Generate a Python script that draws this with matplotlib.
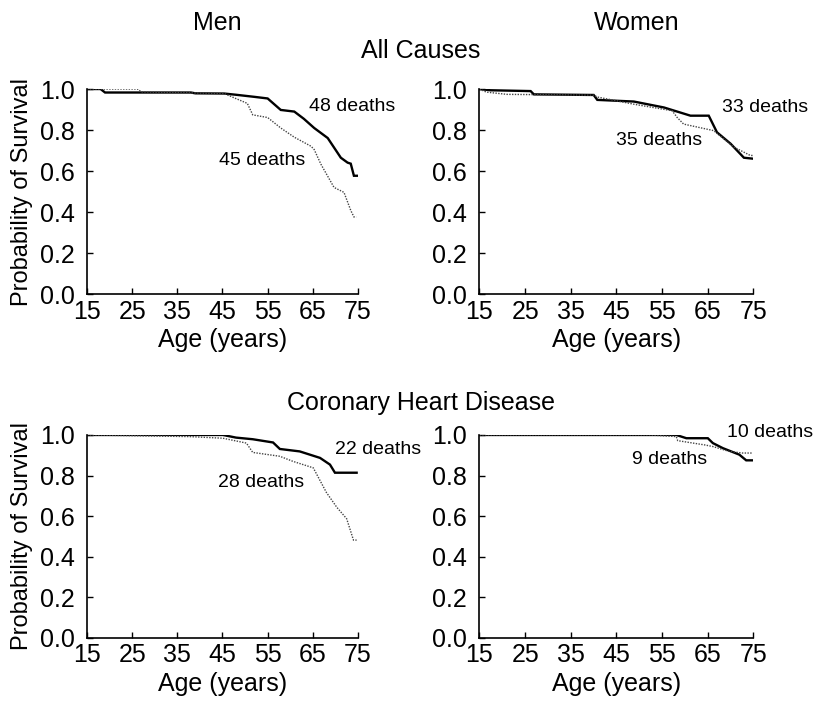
import numpy as np
import matplotlib
matplotlib.use("Agg")
import matplotlib.pyplot as plt

plt.rcParams['font.family'] = ['Liberation Sans', 'DejaVu Sans']

# ---- data (age in years, survival probability)
# Men, all causes
men_all_solid_age = [15, 18, 19, 38, 39, 45.4, 48, 52.0, 55.0, 57.9, 60.9, 63, 65.3, 68.3, 71.2, 72.7, 73.4, 74.1, 74.9]
men_all_solid_surv = [1.0, 1.0, 0.983, 0.983, 0.979, 0.978, 0.972, 0.962, 0.954, 0.898, 0.890, 0.855, 0.810, 0.761, 0.665, 0.641, 0.636, 0.577, 0.577]
men_all_dot_age = [15, 26.2, 27, 45.4, 47.6, 50.5, 51.7, 55.0, 57.9, 60.9, 64.6, 65.3, 66.8, 69.7, 71.9, 73.4, 74.1, 74.6]
men_all_dot_surv = [1.0, 1.0, 0.986, 0.978, 0.957, 0.930, 0.874, 0.861, 0.810, 0.765, 0.721, 0.705, 0.633, 0.520, 0.496, 0.408, 0.376, 0.376]

# Women, all causes
wom_all_solid_age = [15, 17.4, 26.2, 26.9, 40.0, 40.8, 48.8, 55.4, 61.2, 65.2, 67.0, 70.0, 72.9, 75.0]
wom_all_solid_surv = [1.0, 0.994, 0.990, 0.974, 0.971, 0.947, 0.939, 0.910, 0.870, 0.870, 0.789, 0.733, 0.665, 0.660]
wom_all_dot_age = [15, 16.5, 21, 40.0, 40.8, 48.8, 57.2, 58.3, 59.7, 66.3, 70.7, 74.3, 75.0]
wom_all_dot_surv = [1.0, 0.985, 0.974, 0.970, 0.961, 0.926, 0.894, 0.861, 0.829, 0.797, 0.717, 0.676, 0.676]

# Men, coronary heart disease
men_chd_solid_age = [15, 45.1, 48.0, 51.7, 56.2, 57.7, 62.1, 66.6, 68.8, 69.9, 74.7]
men_chd_solid_surv = [1.0, 1.0, 0.987, 0.979, 0.963, 0.931, 0.919, 0.887, 0.854, 0.814, 0.814]
men_chd_dot_age = [15, 37.7, 45.1, 50.3, 51.7, 57.7, 60.6, 65.1, 68.0, 70.3, 72.5, 74.0, 74.7]
men_chd_dot_surv = [1.0, 0.992, 0.984, 0.960, 0.914, 0.895, 0.870, 0.838, 0.717, 0.644, 0.587, 0.482, 0.482]

# Women, coronary heart disease
wom_chd_solid_age = [15, 58.1, 60.3, 65.0, 66.1, 68.3, 71.9, 73.4, 74.8]
wom_chd_solid_surv = [1.0, 1.0, 0.984, 0.984, 0.960, 0.935, 0.903, 0.875, 0.875]
wom_chd_dot_age = [15, 52.2, 58.1, 58.4, 64.3, 66.1, 69.7, 72.6, 74.8]
wom_chd_dot_surv = [1.0, 1.0, 0.992, 0.972, 0.951, 0.943, 0.919, 0.911, 0.911]

# death-count labels: (text, age, survival) per panel
labels_men_all = [("48 deaths", 64.1, 0.913), ("45 deaths", 44.2, 0.650)]
labels_wom_all = [("33 deaths", 68.2, 0.908), ("35 deaths", 44.8, 0.749)]
labels_men_chd = [("22 deaths", 69.9, 0.927), ("28 deaths", 43.9, 0.767)]
labels_wom_chd = [("10 deaths", 69.1, 1.010), ("9 deaths", 48.5, 0.879)]

x_ticks = [15, 25, 35, 45, 55, 65, 75]
y_ticks = [0.0, 0.2, 0.4, 0.6, 0.8, 1.0]

fig = plt.figure(figsize=(8.16, 7.01), dpi=100)

left_col = (0.1066, 0.3321)
right_col = (0.5876, 0.3358)
top_row = (0.5805, 0.2925)
bot_row = (0.0900, 0.2895)


def draw_panel(rect, solid, dotted, labels, ylabel):
    ax = fig.add_axes(rect)
    ax.plot(solid[0], solid[1], color='black', lw=1.7, solid_joinstyle='miter')
    ax.plot(dotted[0], dotted[1], color='#444444', lw=1.0, ls=(0, (1, 1)))
    for txt, xa, ya in labels:
        ax.text(xa, ya, txt, fontsize=14, ha='left', va='center', clip_on=False)
    ax.set_xlim(15, 75)
    ax.set_ylim(0, 1)
    ax.set_xticks(x_ticks)
    ax.set_yticks(y_ticks)
    ax.set_yticklabels(["%.1f" % v for v in y_ticks])
    ax.spines['top'].set_visible(False)
    ax.spines['right'].set_visible(False)
    for s in ('left', 'bottom'):
        ax.spines[s].set_linewidth(1.2)
    ax.tick_params(axis='both', direction='in', length=4, width=1.0, labelsize=18)
    ax.tick_params(axis='y', pad=9)
    ax.tick_params(axis='x', pad=4)
    ax.set_xlabel("Age (years)", fontsize=18, labelpad=3)
    if ylabel:
        ax.set_ylabel("Probability of Survival", fontsize=17, labelpad=5)
    return ax


draw_panel([left_col[0], top_row[0], left_col[1], top_row[1]],
           (men_all_solid_age, men_all_solid_surv), (men_all_dot_age, men_all_dot_surv),
           labels_men_all, True)
draw_panel([right_col[0], top_row[0], right_col[1], top_row[1]],
           (wom_all_solid_age, wom_all_solid_surv), (wom_all_dot_age, wom_all_dot_surv),
           labels_wom_all, False)
draw_panel([left_col[0], bot_row[0], left_col[1], bot_row[1]],
           (men_chd_solid_age, men_chd_solid_surv), (men_chd_dot_age, men_chd_dot_surv),
           labels_men_chd, True)
draw_panel([right_col[0], bot_row[0], right_col[1], bot_row[1]],
           (wom_chd_solid_age, wom_chd_solid_surv), (wom_chd_dot_age, wom_chd_dot_surv),
           labels_wom_chd, False)

fig.text(217.5 / 816, 1 - 23 / 701, "Men", fontsize=18, ha='center', va='center')
fig.text(637 / 816, 1 - 23 / 701, "Women", fontsize=18, ha='center', va='center')
fig.text(421 / 816, 1 - 51 / 701, "All Causes", fontsize=18, ha='center', va='center')
fig.text(421 / 816, 1 - 403 / 701, "Coronary Heart Disease", fontsize=18, ha='center', va='center')

fig.savefig("out.png", dpi=100)
